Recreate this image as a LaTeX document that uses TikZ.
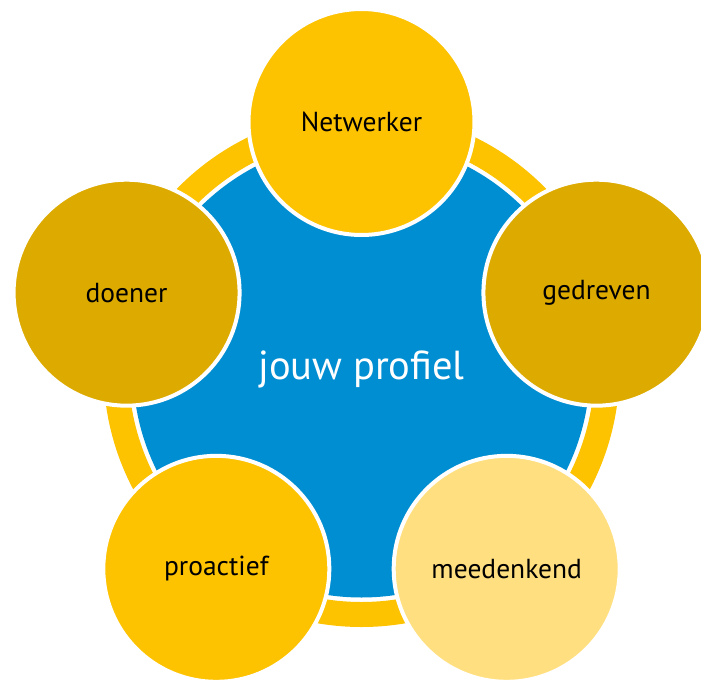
\documentclass[tikz,border=0pt]{standalone}
\usepackage{fontspec}
\setmainfont{PT Sans}
\usetikzlibrary{calc}
\definecolor{ringyellow}{RGB}{253,194,0}
\definecolor{darkgold}{RGB}{221,170,0}
\definecolor{lightyellow}{RGB}{255,223,128}
\definecolor{profileblue}{RGB}{0,142,211}
\tikzset{
  petal/.style={circle, draw=white, line width=4pt, minimum size=226pt, inner sep=0pt,
    font=\fontsize{27.5}{32}\selectfont, text=black},
}
\begin{document}
\begin{tikzpicture}[x=1pt,y=-1pt]
\useasboundingbox (0,0) rectangle (701,682);
\clip (0,0) rectangle (701,682);
\coordinate (c) at (361.5,369);
% ring
\fill[ringyellow, even odd rule] (c) circle[radius=258] (c) circle[radius=233];
% central circle
\node[circle, fill=profileblue, minimum size=457pt, inner sep=0pt,
  font=\fontsize{40.5}{46}\selectfont, text=white] (centre) at (c) {jouw profiel};
% outer circles (y axis points down, so angles are mirrored)
\node[petal, fill=ringyellow]   (net) at ($(c)+(-90:247)$)  {Netwerker};
\node[petal, fill=darkgold]     (ged) at ($(c)+(-18:247)$)  {gedreven};
\node[petal, fill=lightyellow]  (mee) at ($(c)+(54:247)$) {meedenkend};
\node[petal, fill=ringyellow]   (pro) at ($(c)+(126:247)$) {proactief};
\node[petal, fill=darkgold]     (doe) at ($(c)+(198:247)$) {doener};
\end{tikzpicture}
\end{document}
